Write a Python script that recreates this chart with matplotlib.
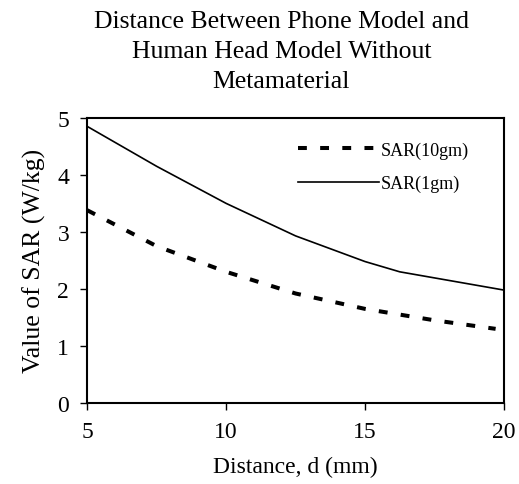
import matplotlib.pyplot as plt

# values
distance = [5, 7.5, 10, 12.5, 15, 16.25, 20]
sar_1gm = [4.85, 4.15, 3.5, 2.93, 2.48, 2.3, 1.98]

distance_10 = [5, 7.5, 10, 12.5, 15, 17.5, 19.7]
sar_10gm = [3.38, 2.75, 2.3, 1.92, 1.65, 1.45, 1.3]

plt.rcParams['font.family'] = ['Liberation Serif', 'DejaVu Serif']

fig = plt.figure(figsize=(5.19, 4.85), dpi=100)
ax = fig.add_axes([0.168, 0.167, 0.803, 0.588])

ax.plot(distance_10, sar_10gm, color='black', lw=2.9, dashes=(2.2, 3.3),
        label='SAR(10gm)')
ax.plot(distance, sar_1gm, color='black', lw=1.2, label='SAR(1gm)')

ax.set_xlim(5, 20)
ax.set_ylim(0, 5)
ax.set_xticks([5, 10, 15, 20])
ax.set_yticks([0, 1, 2, 3, 4, 5])
ax.tick_params(direction='out', length=5, width=1, labelsize=17, pad=8)
for sp in ax.spines.values():
    sp.set_linewidth(1.5)

ax.set_xlabel('Distance, d (mm)', fontsize=17, labelpad=10)
ax.set_ylabel('Value of SAR (W/kg)', fontsize=18.5, labelpad=8)
fig.text(0.542, 0.893, 'Distance Between Phone Model and\nHuman Head Model Without\nMetamaterial',
         ha='center', va='center', fontsize=18.5, linespacing=1.45)

ax.legend(loc='upper right', frameon=False, fontsize=13, handlelength=4.5,
          handletextpad=0.1, labelspacing=0.9, bbox_to_anchor=(0.955, 0.975))

fig.savefig('out.png', dpi=100)
